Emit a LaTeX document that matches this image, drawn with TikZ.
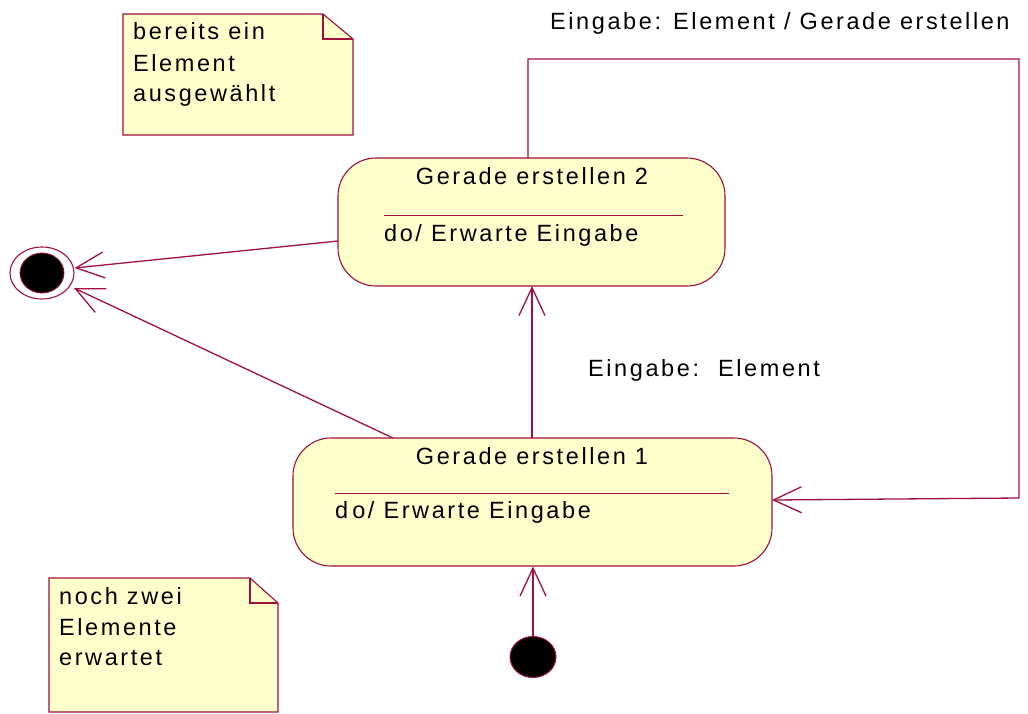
\documentclass[tikz,border=0pt]{standalone}
\usepackage{fontspec}
\setmainfont{Liberation Sans}
\usetikzlibrary{arrows.meta,shapes.geometric}
\definecolor{umlline}{HTML}{A0103C}
\definecolor{umlfill}{HTML}{FFFFCC}
\newfontfamily\umlfont[LetterSpace=11]{Liberation Sans}
\tikzset{
  lbl/.style={font=\umlfont\fontsize{23.5}{27}\selectfont, inner sep=0pt, anchor=base west},
  statebox/.style={draw=umlline, fill=umlfill, line width=1.1pt, rounded corners=38pt},
  notebox/.style={draw=umlline, fill=umlfill, line width=1.1pt},
  conn/.style={draw=umlline, line width=1.3pt, -{Straight Barb[length=28pt,width=26pt,line width=1.3pt]}},
}
\begin{document}
\begin{tikzpicture}[x=1pt,y=-1pt]
\useasboundingbox (0,0) rectangle (1028,713);
% notes
\draw[notebox] (123,14) -- (323,14) -- (353,39) -- (353,135) -- (123,135) -- cycle;
\draw[umlline, line width=1.1pt] (323,14) -- (323,39) -- (353,39);
\node[lbl] (n1a) at (133,39) {bereits ein};
\node[lbl] (n1b) at (133,71) {Element};
\node[lbl] (n1c) at (133,101) {ausgewählt};
\draw[notebox] (49,578) -- (250,578) -- (278,603) -- (278,712) -- (49,712) -- cycle;
\draw[umlline, line width=1.1pt] (250,578) -- (250,603) -- (278,603);
\node[lbl] (n2a) at (59,604) {noch zwei};
\node[lbl] (n2b) at (59,635) {Elemente};
\node[lbl] (n2c) at (59,665) {erwartet};
% states
\node[statebox, minimum width=387pt, minimum height=128pt, inner sep=0pt] (s2) at (531.5,222) {};
\node[statebox, minimum width=479pt, minimum height=128pt, inner sep=0pt] (s1) at (532.5,502) {};
\node[font=\umlfont\fontsize{23.5}{27}\selectfont, inner sep=0pt, anchor=base] (t2) at (532,184) {Gerade erstellen 2};
\draw[umlline, line width=0.8pt] (384,215) -- (683,215);
\node[lbl] (d2) at (384,241) {do/ Erwarte Eingabe};
\node[font=\umlfont\fontsize{23.5}{27}\selectfont, inner sep=0pt, anchor=base] (t1) at (532,464) {Gerade erstellen 1};
\draw[umlline, line width=0.8pt] (335,493) -- (729,493);
\node[lbl] (d1) at (335,518) {d\kern4pt o/ Erwarte Eingabe};
% final state
\node[draw=umlline, line width=1.1pt, fill=white, ellipse, minimum width=64pt, minimum height=52pt, inner sep=0pt] (fin) at (42,273) {};
\node[draw=umlline, line width=0.8pt, fill=black, ellipse, minimum width=44pt, minimum height=40pt, inner sep=0pt] (finin) at (42,273) {};
% initial state
\node[draw=umlline, line width=1pt, fill=black, ellipse, minimum width=46pt, minimum height=41pt, inner sep=0pt] (ini) at (533,657) {};
% connectors
\coordinate (a1) at (338,241);
\coordinate (a2) at (393,438);
\draw[conn] (a1) -- (fin.east |- 0,268) coordinate (f1);
\draw[conn] (a2) -- (74,288) coordinate (f2);
\draw[conn] (ini.north) -- (ini.north |- s1.south);
\draw[conn] (532,438) coordinate (b1) -- (532,286) coordinate (b2);
\coordinate (c0) at (528,158);
\coordinate (c1) at (528,59);
\coordinate (c2) at (1019,59);
\coordinate (c3) at (1019,498);
\coordinate (c4) at (772,500);
\draw[conn] (c0) -- (c1) -- (c2) -- (c3) -- (c4);
% labels
\node[lbl] (l1) at (550,29) {Eingabe: Element / Gerade erstellen};
\node[lbl] (l2) at (588,376) {Eingabe:\hspace{7pt} Element};
\end{tikzpicture}
\end{document}
